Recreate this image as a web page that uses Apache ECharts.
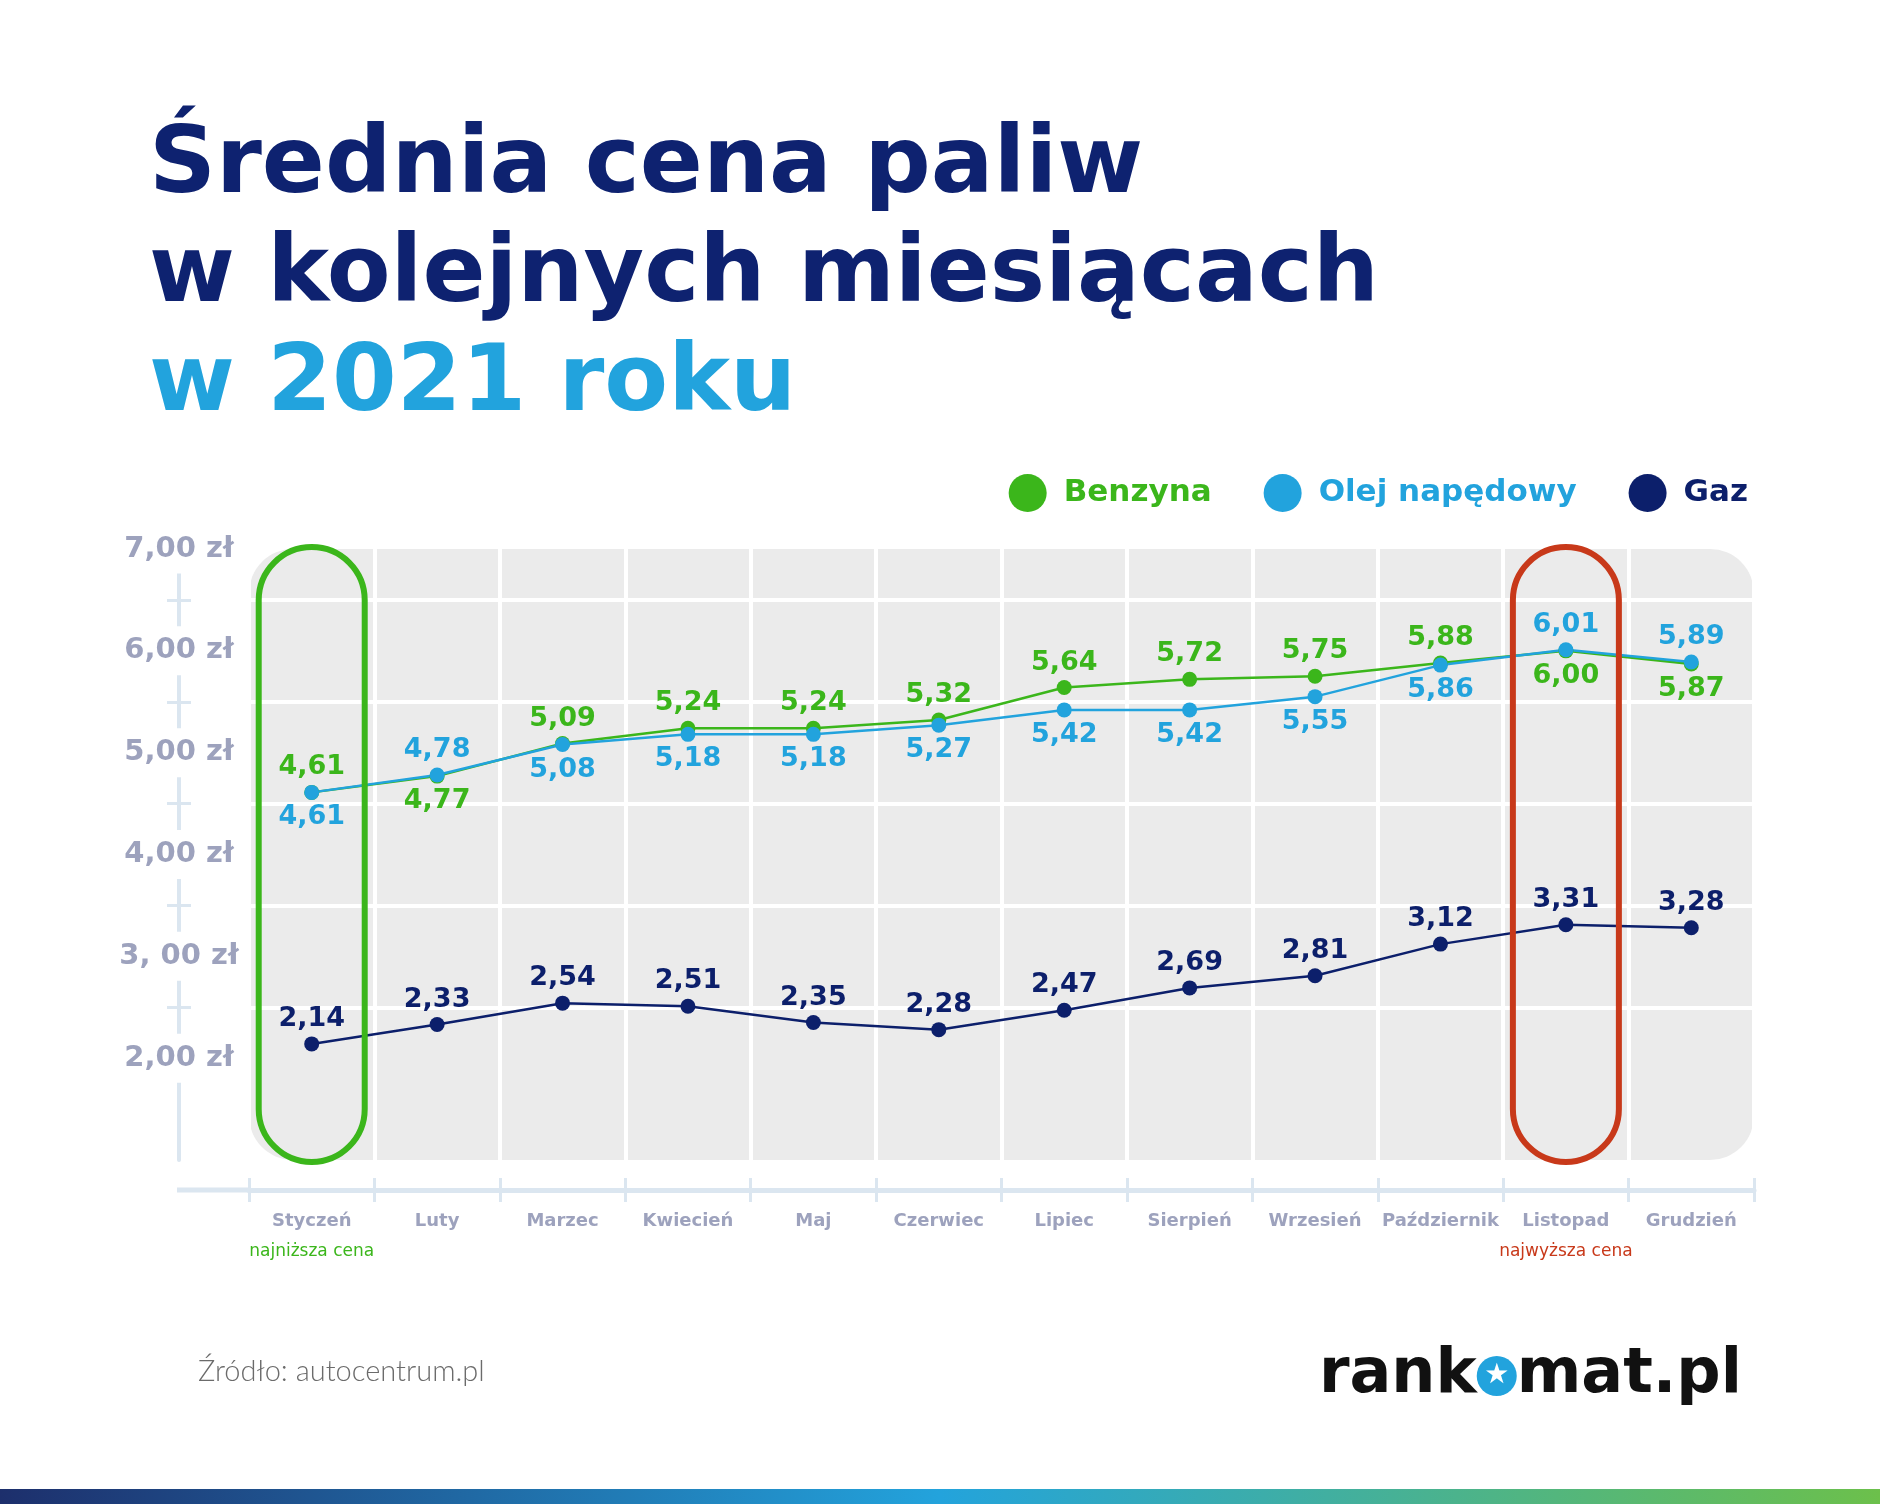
<!DOCTYPE html>
<html>
<head>
<meta charset="utf-8">
<script src="https://cdn.jsdelivr.net/npm/echarts@6/dist/echarts.min.js"></script>
<style>
html,body{margin:0;padding:0;background:#fff;}
#c{width:1880px;height:1504px;}
</style>
</head>
<body>
<div id="c"></div>
<script>
// ---- data ----
const months = ['Styczeń','Luty','Marzec','Kwiecień','Maj','Czerwiec','Lipiec','Sierpień','Wrzesień','Październik','Listopad','Grudzień'];
const monthNotes = ['najniższa cena','','','','','','','','','','najwyższa cena',''];
const benzyna = [4.61,4.77,5.09,5.24,5.24,5.32,5.64,5.72,5.75,5.88,6.00,5.87];
const olej    = [4.61,4.78,5.08,5.18,5.18,5.27,5.42,5.42,5.55,5.86,6.01,5.89];
const gaz     = [2.14,2.33,2.54,2.51,2.35,2.28,2.47,2.69,2.81,3.12,3.31,3.28];
const yTickValues = [2,3,4,5,6,7];
const yTickLabels = ['2,00 zł','3, 00 zł','4,00 zł','5,00 zł','6,00 zł','7,00 zł'];
const yMinorTicks = [2.5,3.5,4.5,5.5,6.5];
const seriesNames = ['Benzyna','Olej napędowy','Gaz'];

// ---- styling ----
const FONT = '"DejaVu Sans", "Noto Sans", sans-serif';
const C_GREEN = '#3bb61b', C_BLUE = '#22a3dd', C_NAVY = '#0c1f6b', C_RED = '#c8391a';
const C_AXIS = '#dbe6f0', C_AXTXT = '#9da2bd', C_TITLE = '#0e2270';
const GRID = {left:249, right:126, top:549, bottom:344};
const benzynaFlip = [1,10,11];   // label below
const olejFlip = [1,10,11];      // label above

const fmt = v => v.toFixed(2).replace('.', ',');
function items(arr, def, flip, alt){
  return arr.map((v,i)=>({value:v, label:{position: flip.indexOf(i)>=0 ? alt : def}}));
}
function lineSeries(name, arr, color, def, flip, alt){
  return {
    name, type:'line', data: items(arr, def, flip, alt),
    symbol:'circle', symbolSize:15,
    lineStyle:{color, width:2.5}, itemStyle:{color},
    label:{show:true, distance:4, color, fontFamily:FONT, fontSize:27, fontWeight:'bold',
      formatter:p=>fmt(p.value)},
    z:5
  };
}

const chart = echarts.init(document.getElementById('c'), null, {renderer:'canvas'});
const option = {
  backgroundColor:'#fff',
  animation:false,
  title:{
    left:144, top:108,
    text:'{a|Średnia cena paliw}\n{a|w kolejnych miesiącach}\n{b|w 2021 roku}',
    textStyle:{rich:{
      a:{fontFamily:FONT, fontSize:93, fontWeight:'bold', color:C_TITLE, lineHeight:109},
      b:{fontFamily:FONT, fontSize:93, fontWeight:'bold', color:C_BLUE, lineHeight:109}
    }}
  },
  legend:{
    right:127, top:469, icon:'circle', itemWidth:38, itemHeight:38, itemGap:52,
    textStyle:{fontFamily:FONT, fontSize:31, fontWeight:'bold', padding:[0,0,0,12]},
    data:[
      {name:seriesNames[0], textStyle:{color:C_GREEN}},
      {name:seriesNames[1], textStyle:{color:C_BLUE}},
      {name:seriesNames[2], textStyle:{color:C_NAVY}}
    ]
  },
  grid:GRID,
  xAxis:[{
    type:'category', data:months, boundaryGap:true, offset:30,
    axisLine:{lineStyle:{color:C_AXIS, width:5}},
    axisTick:{show:true, interval:0, length:12, lineStyle:{color:C_AXIS, width:3}},
    axisLabel:{margin:16, interval:0,
      formatter:(v,i)=>{ const n = monthNotes[i]; return '{m|'+v+'}' + (n ? '\n{'+(i<6?'lo':'hi')+'|'+n+'}' : ''); },
      rich:{
        m:{fontFamily:FONT, fontSize:18, fontWeight:'bold', color:C_AXTXT, lineHeight:30},
        lo:{fontFamily:FONT, fontSize:17, color:C_GREEN, lineHeight:32},
        hi:{fontFamily:FONT, fontSize:17, color:C_RED, lineHeight:32}
      }},
    splitLine:{show:true, interval:0, lineStyle:{color:'#fff', width:4}}
  },{
    type:'category', data:months, boundaryGap:true, offset:30, position:'bottom',
    axisLine:{show:false},
    axisTick:{show:true, interval:0, inside:true, length:12, lineStyle:{color:C_AXIS, width:3}},
    axisLabel:{show:false}, splitLine:{show:false}
  }],
  yAxis:[{
    type:'value', min:1, max:7, interval:1, position:'left', offset:70,
    axisLine:{show:true, lineStyle:{color:C_AXIS, width:4}},
    axisTick:{show:true, customValues:yMinorTicks, length:12, lineStyle:{color:C_AXIS, width:3}},
    axisLabel:{customValues:yTickValues,
      formatter:v=>{ const k = yTickValues.indexOf(v); return k>=0 ? yTickLabels[k] : ''; },
      align:'center', margin:0, backgroundColor:'#fff', padding:[10,3],
      fontFamily:FONT, fontSize:29, fontWeight:'bold', color:C_AXTXT},
    splitLine:{show:true, lineStyle:{color:'#fff', width:4}}
  },{
    type:'value', min:1, max:7, interval:1, position:'left', offset:70,
    axisLine:{show:false},
    axisTick:{show:true, inside:true, customValues:yMinorTicks, length:12, lineStyle:{color:C_AXIS, width:3}},
    axisLabel:{show:false}, splitLine:{show:false}
  }],
  series:[
    lineSeries(seriesNames[0], benzyna, C_GREEN, 'top', benzynaFlip, 'bottom'),
    lineSeries(seriesNames[1], olej, C_BLUE, 'bottom', olejFlip, 'top'),
    lineSeries(seriesNames[2], gaz, C_NAVY, 'top', [], 'bottom')
  ]
};
chart.setOption(option);

// decorations positioned from the axes
const yTop = chart.convertToPixel({yAxisIndex:0}, 7);
const yBot = chart.convertToPixel({yAxisIndex:0}, 1);
const xL = GRID.left, xR = 1880 - GRID.right;
const yAxisX = GRID.left - 70;
const xAxisY = yBot + 30;
const cJan = chart.convertToPixel({xAxisIndex:0}, months[0]);
const cNov = chart.convertToPixel({xAxisIndex:0}, months[10]);
const ovW = 106;
chart.setOption({
  graphic:[
    {type:'rect', z:-10, silent:true, shape:{x:xL, y:yTop, width:xR-xL, height:yBot-yTop, r:44}, style:{fill:'#ebebeb'}},
    {type:'line', z:-5, silent:true, shape:{x1:yAxisX-2, y1:xAxisY, x2:xL, y2:xAxisY}, style:{stroke:C_AXIS, lineWidth:5}},
    {type:'rect', z:50, silent:true, shape:{x:cJan-ovW/2, y:yTop-2, width:ovW, height:yBot-yTop+4, r:ovW/2}, style:{fill:null, stroke:C_GREEN, lineWidth:6}},
    {type:'rect', z:50, silent:true, shape:{x:cNov-ovW/2, y:yTop-2, width:ovW, height:yBot-yTop+4, r:ovW/2}, style:{fill:null, stroke:C_RED, lineWidth:6}},
    {type:'text', z:50, silent:true, style:{x:198, y:1372, text:'Źródło: autocentrum.pl', fill:'#6b6b6b', font:'300 29px Lato, "Open Sans", sans-serif', verticalAlign:'middle', align:'left'}},
    {type:'text', z:50, silent:true, style:{x:1742, y:1376, align:'right', verticalAlign:'middle',
      text:'{r|rank}{o|★}{r|mat.pl}',
      rich:{
        r:{fontFamily:FONT, fontSize:62, fontWeight:'bold', fill:'#111', color:'#111'},
        o:{width:40, height:40, align:'center', lineHeight:40, backgroundColor:C_BLUE, borderRadius:20, fontSize:28, fill:'#fff', color:'#fff', fontFamily:FONT}
      }}},
    {type:'rect', z:50, silent:true, shape:{x:0, y:1489, width:1880, height:15},
      style:{fill:new echarts.graphic.LinearGradient(0,0,1,0,[{offset:0,color:'#1d2f6c'},{offset:0.5,color:'#23a3dc'},{offset:1,color:'#6cc04b'}])}}
  ]
});
</script>
</body>
</html>
